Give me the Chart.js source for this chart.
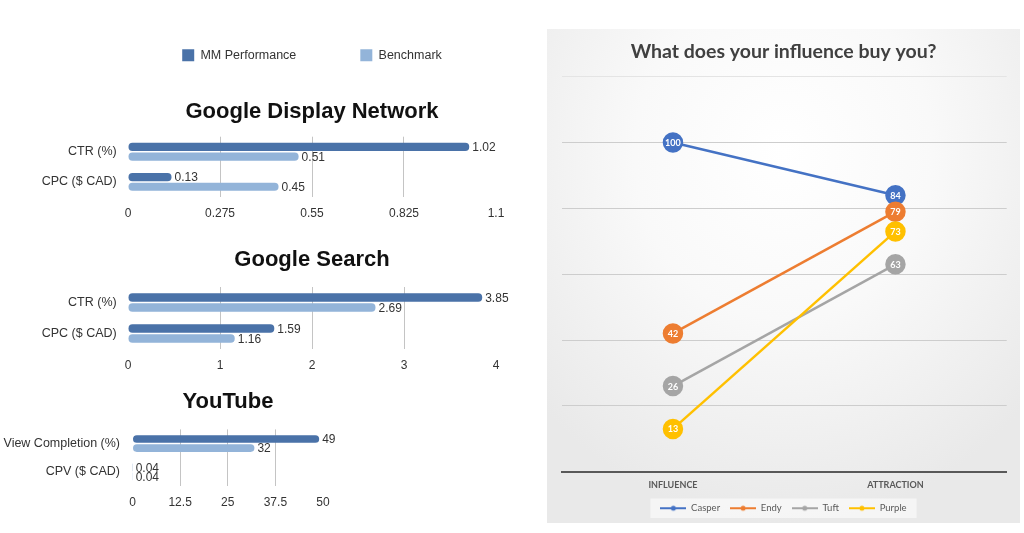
<!DOCTYPE html>
<html>
<head>
<meta charset="utf-8">
<script src="https://cdn.jsdelivr.net/npm/chart.js@4/dist/chart.umd.min.js"></script>
<style>
  html, body { margin: 0; padding: 0; background: #fff; width: 1024px; height: 533px; overflow: hidden; }
  canvas { position: absolute; }
  #panel {
    position: absolute; left: 547px; top: 29px; width: 473px; height: 494px; z-index: 2;
    background: radial-gradient(ellipse 70% 75% at 50% 25%, #ffffff 0%, #f9f9f9 45%, #e9e9e9 100%);
  }
</style>
</head>
<body>
<canvas id="gdn" width="624" height="238" style="left:0;top:-15px"></canvas>
<canvas id="search" width="624" height="135" style="left:0;top:240px"></canvas>
<canvas id="youtube" width="456" height="132" style="left:0;top:380px"></canvas>
<div id="panel"><canvas id="influence" width="473" height="494" style="left:0;top:0"></canvas></div>
<script>
// data
var gdnCategories = ["CTR (%)", "CPC ($ CAD)"];
var gdnMM = [1.02, 0.13];
var gdnBench = [0.51, 0.45];
var gdnTicks = [0, 0.275, 0.55, 0.825, 1.1];

var searchCategories = ["CTR (%)", "CPC ($ CAD)"];
var searchMM = [3.85, 1.59];
var searchBench = [2.69, 1.16];
var searchTicks = [0, 1, 2, 3, 4];

var ytCategories = ["View Completion (%)", "CPV ($ CAD)"];
var ytMM = [49, 0.04];
var ytBench = [32, 0.04];
var ytTicks = [0, 12.5, 25, 37.5, 50];

var lineCategories = ["INFLUENCE", "ATTRACTION"];
var casper = [100, 84];
var endy = [42, 79];
var tuft = [26, 63];
var purple = [13, 73];

Chart.defaults.font.family = '"Liberation Sans", Arial, sans-serif';
Chart.defaults.animation = false;

var MM_COLOR = "#4a72a8";
var BENCH_COLOR = "#93b4d9";

// value written just past the end of each bar
var barValues = {
  id: "barValues",
  afterDatasetsDraw: function (chart) {
    var ctx = chart.ctx;
    ctx.save();
    ctx.font = '12px "Liberation Sans", Arial, sans-serif';
    ctx.fillStyle = "#333";
    ctx.textAlign = "left";
    ctx.textBaseline = "middle";
    chart.data.datasets.forEach(function (ds, di) {
      chart.getDatasetMeta(di).data.forEach(function (bar, i) {
        ctx.fillText(String(ds.data[i]), bar.x + 3, bar.y + 1);
      });
    });
    ctx.restore();
  }
};

function barChart(id, title, cats, mm, bench, ticks, o) {
  var lo = ticks[0], hi = ticks[ticks.length - 1];
  return new Chart(document.getElementById(id), {
    type: "bar",
    data: {
      labels: cats,
      datasets: [
        { label: "MM Performance", data: mm, backgroundColor: MM_COLOR },
        { label: "Benchmark", data: bench, backgroundColor: BENCH_COLOR }
      ]
    },
    options: {
      indexAxis: "y",
      responsive: false,
      categoryPercentage: 0.64,
      barPercentage: 0.85,
      borderRadius: 4,
      borderSkipped: false,
      plugins: {
        tooltip: { enabled: false },
        legend: {
          display: o.legend,
          labels: { boxWidth: 12, boxHeight: 12, padding: 64, color: "#333", font: { size: 12.5 } }
        },
        title: {
          display: true, text: title, color: "#111", weight: 500,
          font: { size: 22, weight: "bold" },
          padding: { top: o.pt, bottom: o.pb }
        }
      },
      scales: {
        x: {
          type: "linear", min: lo, max: hi,
          afterBuildTicks: function (s) { s.ticks = ticks.map(function (v) { return { value: v }; }); },
          afterFit: function (s) { s.height = 26; },
          grid: {
            drawTicks: false,
            color: function (c) { return (c.tick && (c.tick.value === lo || c.tick.value === hi)) ? "rgba(0,0,0,0)" : "#c4c4c4"; }
          },
          border: { display: false },
          ticks: { padding: 9, color: "#333", font: { size: 12 }, callback: function (v) { return String(v); } }
        },
        y: {
          afterFit: function (s) { s.width = o.left; },
          grid: { display: false, drawTicks: false },
          border: { display: false },
          ticks: { padding: o.lpad, color: "#333", font: { size: 12.5 } }
        },
        yRight: {
          type: "linear", position: "right",
          afterFit: function (s) { s.width = o.right; },
          grid: { display: false, drawTicks: false },
          border: { display: false },
          ticks: { display: false }
        }
      }
    },
    plugins: [barValues]
  });
}

barChart("gdn", "Google Display Network", gdnCategories, gdnMM, gdnBench, gdnTicks,
  { legend: true, pt: 26.8, pb: 12, left: 128, right: 128, lpad: 11.3 });
barChart("search", "Google Search", searchCategories, searchMM, searchBench, searchTicks,
  { legend: false, pt: 6.8, pb: 13.8, left: 128, right: 128, lpad: 11.3 });
barChart("youtube", "YouTube", ytCategories, ytMM, ytBench, ytTicks,
  { legend: false, pt: 8.5, pb: 14.5, left: 132.5, right: 133, lpad: 12.5 });

// line chart
var lineColors = ["#4472c4", "#ed7d31", "#a5a5a5", "#ffc000"];

function lineIcon(color) {
  var c = document.createElement("canvas");
  c.width = 26; c.height = 10;
  var g = c.getContext("2d");
  g.strokeStyle = color; g.fillStyle = color; g.lineWidth = 2;
  g.beginPath(); g.moveTo(0, 5); g.lineTo(26, 5); g.stroke();
  g.beginPath(); g.arc(13, 5, 2.5, 0, Math.PI * 2); g.fill();
  return c;
}
var icons = lineColors.map(lineIcon);

var pointValues = {
  id: "pointValues",
  afterDatasetDraw: function (chart, args) {
    var ctx = chart.ctx;
    var ds = chart.data.datasets[args.index];
    ctx.save();
    ctx.font = 'bold 9px Lato, sans-serif';
    ctx.fillStyle = "#fff";
    ctx.textAlign = "center";
    ctx.textBaseline = "middle";
    args.meta.data.forEach(function (p, i) { ctx.fillText(String(ds.data[i]), p.x, p.y + 0.5); });
    ctx.restore();
  }
};

var legendBox = {
  id: "legendBox",
  beforeDraw: function (chart) {
    var boxes = chart.legend.legendHitBoxes;
    if (!boxes || !boxes.length) return;
    var l = Infinity, r = -Infinity, t = Infinity, b = -Infinity;
    boxes.forEach(function (h) {
      l = Math.min(l, h.left); r = Math.max(r, h.left + h.width);
      t = Math.min(t, h.top); b = Math.max(b, h.top + h.height);
    });
    var ctx = chart.ctx;
    ctx.save();
    ctx.fillStyle = "rgba(255,255,255,0.55)";
    ctx.fillRect(l - 10, t - 5, r - l + 20, b - t + 10);
    ctx.restore();
  }
};

function series(label, data, i) {
  return {
    label: label, data: data, order: 4 - i,
    borderColor: lineColors[i], backgroundColor: lineColors[i],
    pointBackgroundColor: lineColors[i], pointBorderColor: lineColors[i],
    borderWidth: 2.5, pointRadius: 9, pointHoverRadius: 9
  };
}

new Chart(document.getElementById("influence"), {
  type: "line",
  data: {
    labels: lineCategories,
    datasets: [
      series("Casper", casper, 0),
      series("Endy", endy, 1),
      series("Tuft", tuft, 2),
      series("Purple", purple, 3)
    ]
  },
  options: {
    responsive: false,
    plugins: {
      tooltip: { enabled: false },
      title: {
        display: true, text: "What does your influence buy you?", color: "#404040",
        font: { family: "Lato", size: 19.5, weight: "bold" },
        padding: { top: 11.3, bottom: 13 }
      },
      legend: {
        position: "bottom",
        labels: {
          usePointStyle: true, pointStyleWidth: 26, padding: 10,
          color: "#595959", font: { family: "Lato", size: 9.5 },
          sort: function (a, b) { return a.datasetIndex - b.datasetIndex; },
          generateLabels: function (chart) {
            var items = Chart.defaults.plugins.legend.labels.generateLabels(chart);
            items.forEach(function (it) { it.pointStyle = icons[it.datasetIndex]; });
            return items;
          }
        }
      }
    },
    scales: {
      x: {
        offset: true,
        grid: { display: false, drawTicks: false },
        border: { display: true, color: "#595959", width: 2 },
        afterFit: function (s) { s.height = 21.8; },
        ticks: { padding: 8, color: "#595959", font: { family: "Lato", size: 9, weight: "bold" } }
      },
      y: {
        min: 0, max: 120,
        afterFit: function (s) { s.width = 14.7; },
        grid: {
          drawTicks: false,
          color: function (c) {
            if (c.tick.value === 0) return "rgba(0,0,0,0)";
            return c.tick.value === 120 ? "#e4e4e4" : "#cdcdcd";
          }
        },
        border: { display: false },
        ticks: { stepSize: 20, display: false }
      },
      yRight: {
        type: "linear", position: "right",
        afterFit: function (s) { s.width = 13.3; },
        grid: { display: false, drawTicks: false },
        border: { display: false },
        ticks: { display: false }
      }
    }
  },
  plugins: [pointValues, legendBox]
});
</script>
</body>
</html>
